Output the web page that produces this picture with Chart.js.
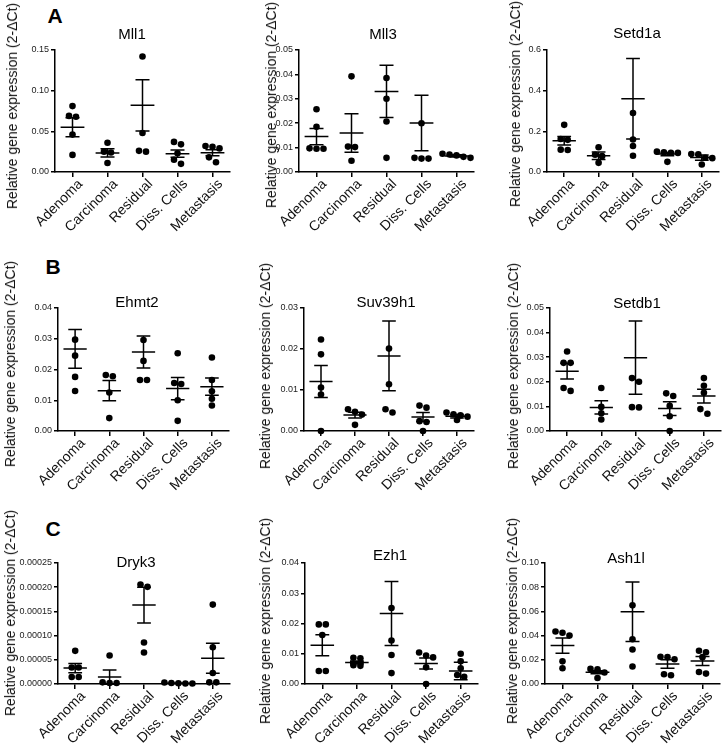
<!DOCTYPE html>
<html><head><meta charset="utf-8">
<script src="https://cdn.jsdelivr.net/npm/chart.js@4.4.1/dist/chart.umd.min.js"></script>
<style>
html,body{margin:0;padding:0;background:#fff;}
body{width:724px;height:747px;position:relative;overflow:hidden;font-family:'Liberation Sans',Arial,sans-serif;}
canvas{position:absolute;}
.t{position:absolute;white-space:nowrap;transform:translate(-50%,-50%);color:#000;line-height:1;}
.yl{position:absolute;white-space:nowrap;transform:translate(-50%,-50%) rotate(-90deg);font-size:14px;color:#111;line-height:1;}
.lt{font-weight:bold;font-size:21px;}
.tt{font-size:15px;}
</style></head><body>
<script>
// ---------------- DATA ----------------
const categories = ['Adenoma','Carcinoma','Residual','Diss. Cells','Metastasis'];
const yLabelText = 'Relative gene expression (2-\u0394Ct)';
const panelLetters = ['A','B','C'];
const genes = ['Mll1','Mll3','Setd1a','Ehmt2','Suv39h1','Setdb1','Dryk3','Ezh1','Ash1l'];

const mll1Points = [[0.081,0.069,0.068,0.046,0.021],[0.036,0.025,0.024,0.011],[0.142,0.048,0.026,0.025],[0.037,0.034,0.023,0.015,0.010],[0.032,0.031,0.029,0.018,0.012]];
const mll1Means = [0.055,0.0235,0.082,0.0225,0.0237];
const mll1Sems = [0.0118,0.0052,0.0315,0.0045,0.0037];

const mll3Points = [[0.0257,0.0185,0.0097,0.0095,0.0095],[0.0392,0.0104,0.0102,0.0046],[0.0385,0.030,0.0207,0.0058],[0.020,0.0058,0.0055,0.0055],[0.0075,0.0072,0.0068,0.0062,0.0058]];
const mll3Means = [0.0145,0.016,0.033,0.0201,0.0066];
const mll3Sems = [0.0033,0.0079,0.0107,0.0114,0.0005];

const setd1aPoints = [[0.232,0.162,0.158,0.110,0.108],[0.122,0.085,0.078,0.045],[0.290,0.160,0.128,0.080],[0.100,0.097,0.095,0.094,0.050],[0.088,0.087,0.070,0.068,0.037]];
const setd1aMeans = [0.154,0.080,0.360,0.088,0.071];
const setd1aSems = [0.021,0.018,0.198,0.008,0.013];

const ehmt2Points = [[0.0297,0.0245,0.0176,0.0130],[0.0182,0.0178,0.0125,0.0042],[0.0296,0.0228,0.0166,0.0166],[0.0253,0.0156,0.0153,0.0100,0.0033],[0.0239,0.0166,0.0129,0.0105,0.0083]];
const ehmt2Means = [0.0267,0.0131,0.0257,0.0138,0.0144];
const ehmt2Sems = [0.0063,0.0033,0.0052,0.0036,0.0028];

const suv39h1Points = [[0.0223,0.0187,0.0106,0.0089,0.0],[0.0053,0.0047,0.0040,0.0015],[0.0201,0.0114,0.0053,0.0045],[0.0062,0.0057,0.0024,0.0022,0.0],[0.0045,0.0041,0.0038,0.0035,0.0027]];
const suv39h1Means = [0.0121,0.0039,0.0183,0.0034,0.0036];
const suv39h1Sems = [0.0039,0.0007,0.0085,0.0011,0.0004];

const setdb1Points = [[0.0323,0.0277,0.0277,0.0175,0.0163],[0.0175,0.0098,0.0072,0.0047],[0.0215,0.0200,0.0097,0.0096],[0.0153,0.0142,0.0102,0.0060,0.0],[0.0215,0.0184,0.0155,0.0089,0.0070]];
const setdb1Means = [0.0243,0.0096,0.0298,0.0091,0.0142];
const setdb1Sems = [0.0032,0.0027,0.0149,0.0028,0.0028];

const dryk3Points = [[0.0000685,0.0000342,0.0000342,0.0000144,0.0000144],[0.0000589,0.0000034,0.000002,0.000002],[0.0002055,0.0002007,0.0000856,0.000065],[0.000003,0.000002,0.0000015,0.000001,0.000001],[0.000164,0.000076,0.0000226,0.0000034,0.0000034]];
const dryk3Means = [0.0000329,0.0000144,0.000163,0.0000018,0.0000534];
const dryk3Sems = [0.0000096,0.0000147,0.000037,0.0000004,0.000031];

const ezh1Points = [[0.0197,0.0197,0.0162,0.0043,0.0043],[0.0087,0.0085,0.0062,0.0060],[0.0251,0.0144,0.0096,0.0036],[0.0104,0.0094,0.0088,0.0055,0.0],[0.0100,0.0075,0.0052,0.0030,0.0024]];
const ezh1Means = [0.0128,0.0071,0.0233,0.0068,0.0043];
const ezh1Sems = [0.0035,0.0005,0.0106,0.0018,0.0029];

const ash1lPoints = [[0.0434,0.0423,0.0400,0.0187,0.0130],[0.0125,0.0121,0.0095,0.0050],[0.0650,0.0370,0.0285,0.0145],[0.0225,0.0222,0.0205,0.0080,0.0072],[0.0275,0.0262,0.0222,0.0099,0.0086]];
const ash1lMeans = [0.0318,0.0097,0.0597,0.0165,0.0190];
const ash1lSems = [0.0063,0.0012,0.0246,0.0035,0.0038];

// y-axis ranges / tick steps / label decimals
const yMaxes = [0.15,0.05,0.6,0.04,0.03,0.05,0.00025,0.04,0.10];
const ySteps = [0.05,0.01,0.2,0.01,0.01,0.01,0.00005,0.01,0.02];
const yDecimals = [2,2,1,2,2,2,5,2,2];

// ---------------- LAYOUT ----------------
const pointsAll = [mll1Points,mll3Points,setd1aPoints,ehmt2Points,suv39h1Points,setdb1Points,dryk3Points,ezh1Points,ash1lPoints];
const meansAll = [mll1Means,mll3Means,setd1aMeans,ehmt2Means,suv39h1Means,setdb1Means,dryk3Means,ezh1Means,ash1lMeans];
const semsAll = [mll1Sems,mll3Sems,setd1aSems,ehmt2Sems,suv39h1Sems,setdb1Sems,dryk3Sems,ezh1Sems,ash1lSems];
// plot boxes [left, top, right, bottom]
const boxes = [[55,50,230,172],[299,50,474,172],[547,50,719,172],
               [58,308,229,431],[304,308,474,431],[550,308,721,431],
               [58,563,230,684],[305,563,478,684],[545,563,720,684]];
const titlePos = [[132,33],[383,33],[637,32],[137,301],[386,301],[637,302],[136,561],[390,554],[626,557]];
const yLabelPos = [[12,106],[271,105],[515,104],[10,364],[265,366],[513,366],[10,613],[265,621],[512,621]];
const letterPos = [[55,15],[53,266],[53,528]];

const YW = 48, PT = 10, PR = 8, XH = 78;
const DOT_R = 3.3, DOT_GAP = 7, MEAN_HW = 0.34, WHISK_HW = 0.2;

Chart.defaults.font.family = "'Liberation Sans', Arial, sans-serif";

function addText(cls, txt, x, y){
  const d = document.createElement('div');
  d.className = cls; d.textContent = txt;
  d.style.left = x+'px'; d.style.top = y+'px';
  document.body.appendChild(d);
}

function swarmOffsets(vals, max, plotH, plotW){
  const spacing = plotW/categories.length;
  const off = new Array(vals.length).fill(0);
  const idx = vals.map((v,i)=>i).sort((a,b)=>vals[b]-vals[a]);
  let cl = [];
  const flush = ()=>{ const n = cl.length; cl.forEach((j,k)=>{ off[j] = (k-(n-1)/2)*DOT_GAP/spacing; }); cl = []; };
  idx.forEach(i=>{
    if (cl.length && Math.abs(vals[cl[0]]-vals[i])/max*plotH > 5.5) flush();
    cl.push(i);
  });
  flush();
  return off;
}

function errData(means, sems){
  const d = [];
  means.forEach((m,i)=>{
    const s = sems[i];
    d.push({x:i-MEAN_HW,y:m},{x:i+MEAN_HW,y:m},{x:i,y:null},
           {x:i-WHISK_HW,y:m+s},{x:i+WHISK_HW,y:m+s},{x:i,y:null},
           {x:i-WHISK_HW,y:m-s},{x:i+WHISK_HW,y:m-s},{x:i,y:null},
           {x:i,y:m-s},{x:i,y:m+s},{x:i,y:null});
  });
  return d;
}

panelLetters.forEach((l,i)=>addText('t lt', l, letterPos[i][0], letterPos[i][1]));

genes.forEach((g,p)=>{
  const [L,T,R,B] = boxes[p];
  const plotW = R-L, plotH = B-T;
  const cv = document.createElement('canvas');
  const cw = plotW + YW + PR, ch = plotH + PT + XH;
  cv.width = cw; cv.height = ch;
  cv.style.width = cw+'px'; cv.style.height = ch+'px';
  cv.style.left = (L-YW)+'px'; cv.style.top = (T-PT)+'px';
  document.body.appendChild(cv);

  const max = yMaxes[p], step = ySteps[p], dec = yDecimals[p];
  const pts = [];
  pointsAll[p].forEach((vals,ci)=>{
    const off = swarmOffsets(vals, max, plotH, plotW);
    vals.forEach((v,k)=>pts.push({x:ci+off[k], y:v}));
  });

  new Chart(cv, {
    type:'scatter',
    data:{datasets:[
      {type:'line', data: errData(meansAll[p], semsAll[p]), borderColor:'#000', borderWidth:1.5,
       pointRadius:0, spanGaps:false, clip:false, tension:0, fill:false},
      {data: pts, pointRadius: DOT_R, pointHoverRadius: DOT_R, backgroundColor:'#000', borderWidth:0, clip:false}
    ]},
    options:{
      responsive:false, animation:false, devicePixelRatio:1,
      layout:{padding:{left:0,top:PT,right:PR,bottom:0}},
      plugins:{legend:{display:false}, tooltip:{enabled:false}, title:{display:false}},
      scales:{
        x:{type:'linear', min:-0.5, max:categories.length-0.5,
           afterBuildTicks: s=>{ s.ticks = categories.map((c,i)=>({value:i})); },
           afterFit: s=>{ s.height = XH; },
           ticks:{autoSkip:false, minRotation:45, maxRotation:45, font:{size:14}, color:'#111', padding:-1, labelOffset:8,
                  callback:(v)=>categories[Math.round(v)]},
           grid:{drawOnChartArea:false, drawTicks:true, tickLength:5, color:'#000', lineWidth:1.5},
           border:{display:true, color:'#000', width:1.5}},
        y:{min:0, max:max,
           afterBuildTicks: s=>{ const n = Math.round(max/step); const t=[]; for(let k=0;k<=n;k++) t.push({value:k*step}); s.ticks = t; },
           afterFit: s=>{ s.width = YW; },
           ticks:{font:{size:9}, color:'#222', padding:2, callback:(v)=>Number(v).toFixed(dec)},
           grid:{drawOnChartArea:false, drawTicks:true, tickLength:4, color:'#000', lineWidth:1.5},
           border:{display:true, color:'#000', width:1.5}}
      }
    }
  });

  addText('t tt', g, titlePos[p][0], titlePos[p][1]);
  addText('yl', yLabelText, yLabelPos[p][0], yLabelPos[p][1]);
});
</script>
</body></html>
